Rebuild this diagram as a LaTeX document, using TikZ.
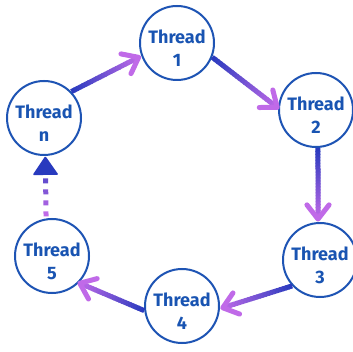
\documentclass[tikz,border=0pt]{standalone}
\usepackage{fontspec}
\setmainfont{Fira Sans}
\usetikzlibrary{calc}

\definecolor{ringblue}{RGB}{30,84,180}
\definecolor{labelblue}{RGB}{25,84,178}
\definecolor{flowstart}{RGB}{40,58,190}
\definecolor{flowend}{RGB}{192,106,232}

\tikzset{
  thr/.style={circle, draw=ringblue, line width=2pt, minimum size=74pt, inner sep=0pt, fill=white},
  lbl/.style={text=labelblue, font=\bfseries\fontsize{18}{23}\selectfont, align=center, yshift=-5pt},
  shaft/.style={line width=5pt, line cap=butt},
  barb/.style={line width=5pt, line cap=round, line join=round, draw=flowend},
}

% gradient arrow: #1 start, #2 end, #3 gap before the tip
\newcommand\flowarrow[3]{%
  \coordinate (fa-s) at (#1);
  \coordinate (fa-e) at ($(#2)!#3!(#1)$);
  \foreach \k in {1,...,24}{
    \pgfmathsetmacro\ka{(\k-1)/24}
    \pgfmathsetmacro\kb{min(1,(\k+0.3)/24)}
    \pgfmathtruncatemacro\kp{(\k-0.5)/24*100}
    \draw[shaft, draw=flowend!\kp!flowstart] ($(fa-s)!\ka!(fa-e)$) -- ($(fa-s)!\kb!(fa-e)$);
  }
  \draw[barb] ($(fa-e)!18pt!38:(fa-s)$) -- (fa-e) -- ($(fa-e)!18pt!-38:(fa-s)$);
}

\begin{document}
\begin{tikzpicture}[x=1pt,y=-1pt]
  \fill[white] (0,0) rectangle (353,352);
  \useasboundingbox (0,0) rectangle (353,352);

  % threads
  \node[thr] (tn) at (44,118) {};
  \node[thr] (t1) at (177,43) {};
  \node[thr] (t2) at (316,110) {};
  \node[thr] (t3) at (320,260) {};
  \node[thr] (t4) at (182,306) {};
  \node[thr] (t5) at (52,256) {};

  \node[lbl] (ln) at (tn.center) {Thread\\n};
  \node[lbl] (l1) at (t1.center) {Thread\\1};
  \node[lbl] (l2) at (t2.center) {Thread\\2};
  \node[lbl] (l3) at (t3.center) {Thread\\3};
  \node[lbl] (l4) at (t4.center) {Thread\\4};
  \node[lbl] (l5) at (t5.center) {Thread\\5};

  % solid hand-offs
  \flowarrow{tn.44}{t1.200}{3pt}
  \flowarrow{t1.-22}{t2.177}{1pt}
  \flowarrow{t2.-87}{t3.93}{3pt}
  \flowarrow{t3.223}{t4.-4}{3pt}
  \flowarrow{t4.187}{t5.-45}{1pt}

  % dotted return from thread 5 to thread n
  \coordinate (rs) at (t5.99);
  \coordinate (re) at (tn.272);
  \foreach \d/\p in {2/100,13/80,24/60,35/40}{
    \draw[shaft, draw=flowend!\p!flowstart]
      ($(rs)!\d pt!(re)$) -- ($(rs)!\d pt + 5pt!(re)$);
  }
  \fill[flowstart, rounded corners=1.2pt]
    (re) -- ($(re)!19pt!(rs)!13pt!90:(re)$) -- ($(re)!19pt!(rs)!13pt!-90:(re)$) -- cycle;
\end{tikzpicture}
\end{document}
